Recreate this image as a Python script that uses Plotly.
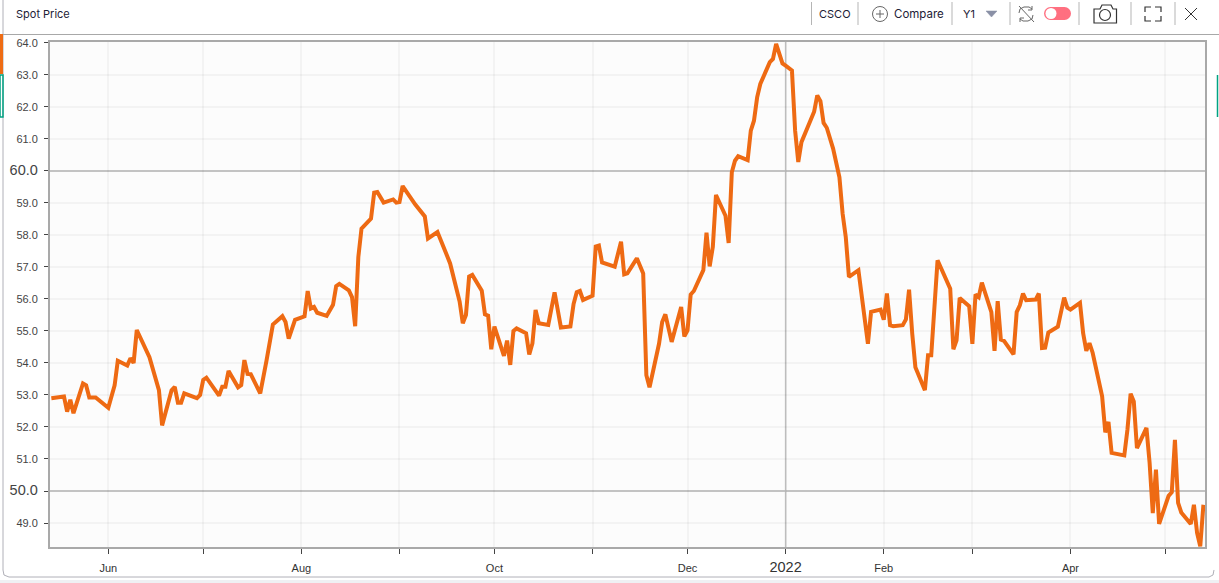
import pandas as pd
import plotly.graph_objects as go

# Calendar days counted from 2021-06-01
day_offsets = [
    -18,-14,-13,-12,-11,-8,-7,-6,-4,0,2,3,6,7,8,9,13,16,17,20,21,22,23,24,28,29,30,31,35,36,37,38,41,42,43,44,45,48,
    50,52,55,56,57,59,62,63,64,65,66,69,71,72,73,76,77,78,79,80,83,84,85,87,90,91,92,93,97,99,100,101,104,107,108,
    111,112,113,114,115,118,119,120,121,122,125,126,127,128,129,132,133,134,135,136,139,141,143,146,147,148,149,150,
    153,154,155,156,160,162,163,164,167,169,170,171,174,175,176,178,181,182,183,184,185,188,189,190,191,192,195,196,
    197,198,199,202,203,204,205,206,209,210,211,213,214,216,217,218,219,222,223,224,225,226,227,229,231,232,233,234,
    237,240,241,244,245,246,247,248,251,252,253,254,255,258,259,260,262,266,267,268,269,272,273,274,275,276,279,280,
    281,282,283,286,287,288,289,290,293,294,295,296,297,300,302,303,304,307,308,309,310,311,314,315,316,317,321,322,
    323,324,325,328,329,330,331,332,335,336,337,338,339,342,343,344,345,346,
]
spot_price = [
    52.9,52.95,52.48,52.85,52.43,53.36,53.3,52.92,52.92,52.6,53.3,54.07,53.92,54.15,54.0,55.03,54.18,53.15,52.05,53.15,53.25,52.76,52.76,53.05,52.9,53.0,53.47,53.54,52.98,53.26,53.26,53.75,53.24,53.31,54.09,53.66,53.65,53.05,
    54.08,55.2,55.46,55.28,54.76,55.35,55.46,56.25,55.7,55.75,55.57,55.47,55.82,56.4,56.47,56.27,56.06,55.15,57.31,58.2,58.51,59.32,59.34,59.01,59.11,59.01,59.03,59.53,58.95,58.67,58.58,57.89,58.09,57.36,57.11,
    55.92,55.24,55.5,56.7,56.75,56.26,55.52,55.48,54.43,55.14,54.22,54.7,53.94,55.0,55.08,54.93,54.27,54.61,55.66,55.24,55.19,56.21,55.11,55.14,55.84,56.21,56.25,55.97,
    56.1,57.64,57.67,57.14,57.01,57.79,56.77,56.8,57.27,56.8,53.62,53.24,54.6,55.28,55.52,54.66,55.75,54.83,55.02,56.14,56.25,56.9,58.07,57.02,57.63,59.25,58.6,57.75,
    59.96,60.32,60.46,60.34,61.26,61.57,62.3,62.72,63.4,63.5,63.97,63.36,63.29,63.14,61.26,60.28,60.9,61.6,61.85,62.36,62.18,61.5,61.35,60.7,59.8,58.67,57.94,56.69,
    56.9,54.6,55.6,55.67,55.35,56.17,55.18,55.15,55.18,55.36,56.29,54.92,53.87,53.15,54.24,54.24,57.21,56.32,54.43,54.71,56.03,55.77,54.6,56.14,56.06,56.51,55.59,54.38,
    55.93,54.73,54.69,54.27,55.59,55.8,56.17,55.96,55.98,56.17,54.47,54.48,54.95,55.13,56.04,55.73,55.67,55.88,54.93,54.38,54.62,54.32,52.96,51.83,52.16,51.19,51.11,51.92,
    53.04,52.8,51.34,51.97,50.88,49.31,50.67,48.97,49.85,49.96,51.6,49.63,49.33,48.97,49.57,48.69,48.27,49.57,
]
month_ticks = ["2021-06-01","2021-07-01","2021-08-01","2021-09-01","2021-10-01","2021-11-01","2021-12-01",
               "2022-01-01","2022-02-01","2022-03-01","2022-04-01","2022-05-01"]
month_labels = ["Jun","","Aug","","Oct","","Dec","2022","Feb","","Apr",""]
price_ticks = [49,50,51,52,53,54,55,56,57,58,59,60,61,62,63,64]
major_prices = [50,60]
major_dates = ["2022-01-01"]
x_range = ["2021-05-13 14:00","2022-05-13 12:00"]
y_range = [48.25,64.03]

dates = pd.Timestamp("2021-06-01") + pd.to_timedelta(day_offsets, unit="D")

W, H = 1219, 583
L, R, T, B = 50, 1205, 42, 547
px = lambda x: (x - L) / (R - L)
py = lambda y: (B - y) / (B - T)
GRAY = "#a9a9a9"
SEP = "#b5b5b5"
ICON = "#444444"
INK = "#1d2136"

def label_y(v):
    t = f"{v:.1f}"
    return f'<span style="font-size:14.5px">{t}</span>' if v in major_prices else t

def label_x(t):
    return f'<span style="font-size:14.5px">{t}</span>' if t == "2022" else t

shapes = []
def line(x0, y0, x1, y1, color=SEP, width=1):
    shapes.append(dict(type="line", xref="paper", yref="paper", x0=px(x0), y0=py(y0), x1=px(x1), y1=py(y1),
                       line=dict(color=color, width=width), layer="above"))
def rect(x0, y0, x1, y1, fill="rgba(0,0,0,0)", color=None, width=0):
    shapes.append(dict(type="rect", xref="paper", yref="paper", x0=px(x0), y0=py(y0), x1=px(x1), y1=py(y1),
                       fillcolor=fill, line=dict(color=color, width=width), layer="above"))
def circle(cx, cy, r, fill="rgba(0,0,0,0)", color=None, width=0):
    shapes.append(dict(type="circle", xref="paper", yref="paper", x0=px(cx-r), y0=py(cy+r), x1=px(cx+r), y1=py(cy-r),
                       fillcolor=fill, line=dict(color=color, width=width), layer="above"))
def path(points, color=ICON, width=1, fill="rgba(0,0,0,0)", close=False):
    d = "M " + " L ".join(f"{px(a):.5f},{py(b):.5f}" for a, b in points) + (" Z" if close else "")
    shapes.append(dict(type="path", xref="paper", yref="paper", path=d, fillcolor=fill,
                       line=dict(color=color, width=width), layer="above"))

# stronger gridlines
for v in major_prices:
    shapes.append(dict(type="line", xref="paper", yref="y", x0=0, x1=1, y0=v, y1=v,
                       line=dict(color="#cbcbcb", width=2), layer="below"))
for d in major_dates:
    shapes.append(dict(type="line", xref="x", yref="paper", x0=d, x1=d, y0=0, y1=1,
                       line=dict(color="#c4c4c4", width=1.5), layer="below"))

# card frame
line(3, 0, 3, 570, "#b0b0b8", 1)
path([(3, 570), (4, 575), (9, 577)], "#b0b0b8", 1)
line(9, 577, 1209, 577, "#b0b0b8", 1)
path([(1209, 577), (1213, 575), (1214, 570)], "#b0b0b8", 1)
line(3, 34.5, 1219, 34.5, "#a8a8a8", 1)
rect(0, 580, 1219, 583, "#eff0f3")
rect(0, 34, 3, 74, "#ee6c14")
rect(0, 75, 3, 117, "rgba(0,0,0,0)", "#00a383", 1.5)
line(1217.5, 75, 1217.5, 117, "#00a383", 1.5)

# toolbar
for sx in [811.5, 858, 952, 1010, 1079, 1131, 1175]:
    line(sx, 2, sx, 25)
circle(880, 14, 7.5, color="#666666", width=1)
line(876, 14, 884, 14, "#666666", 1)
line(880, 10, 880, 18, "#666666", 1)
path([(986, 11), (997, 11), (991.5, 17)], "#8a90a6", 0.5, "#8a90a6", True)
# sync icon
path([(1019, 13), (1020, 9), (1024, 7), (1029, 7), (1032, 9)], "#666666", 1)
path([(1033, 15), (1032, 19), (1028, 21), (1023, 21), (1020, 19)], "#666666", 1)
path([(1032, 6), (1032, 10), (1028, 10)], "#666666", 1)
path([(1020, 22), (1020, 18), (1024, 18)], "#666666", 1)
line(1019, 6, 1034, 22, "#666666", 1)
# toggle
circle(1050.5, 13.5, 6.5, "#ff6f80")
circle(1064.5, 13.5, 6.5, "#ff6f80")
rect(1050.5, 7, 1064.5, 20, "#ff6f80")
circle(1051, 13.5, 5.5, "#ffffff")
# camera
path([(1094, 9), (1100, 9), (1102, 5), (1111, 5), (1113, 9), (1116.5, 9), (1116.5, 23), (1094, 23)], "#333333", 1.2, close=True)
circle(1105, 15, 5.5, color="#333333", width=1.2)
# fullscreen
for a, b, c, d2, e, f in [(1145, 12, 1145, 7, 1151, 7), (1155, 7, 1161, 7, 1161, 12),
                          (1145, 16, 1145, 21, 1151, 21), (1155, 21, 1161, 21, 1161, 16)]:
    path([(a, b), (c, d2), (e, f)], "#333333", 1.2)
line(1185, 8, 1197, 20, "#333333", 1)
line(1197, 8, 1185, 20, "#333333", 1)

def note(x, y, s, size=11, font="Inter", color=INK, anchor="left"):
    return dict(xref="paper", yref="paper", x=px(x), y=py(y), text=s, showarrow=False, xanchor=anchor,
                yanchor="middle", font=dict(family=font, size=size, color=color))

annotations = [
    note(14, 14, "Spot Price", 11),
    note(817, 14, "CSCO", 11),
    note(892, 14, "Compare", 11.5),
    note(961, 14, "Y1", 11),
]

fig = go.Figure(go.Scatter(x=dates, y=spot_price, mode="lines", line=dict(color="#ee6a13", width=4),
                           hoverinfo="x+y", showlegend=False))
fig.update_layout(
    width=W, height=H, margin=dict(l=L, r=W-R, t=T, b=H-B, autoexpand=False),
    paper_bgcolor="#ffffff", plot_bgcolor="#fcfcfc", showlegend=False,
    font=dict(family="Liberation Sans, Arial, sans-serif", size=11, color="#444444"),
    shapes=shapes, annotations=annotations,
)
axis_common = dict(showline=True, mirror=True, linecolor=GRAY, linewidth=2, gridcolor="rgba(0,0,0,0.035)", gridwidth=1.5,
                   ticks="outside", tickwidth=1, tickcolor="#444444", zeroline=False)
fig.update_xaxes(type="date", range=x_range, tickmode="array", tickvals=month_ticks,
                 ticktext=[label_x(t) for t in month_labels], tickangle=0, ticklabelstandoff=5, ticklen=5,
                 tickfont=dict(size=11, color="#333333"), **axis_common)
fig.update_yaxes(range=y_range, tickmode="array", tickvals=price_ticks,
                 ticktext=[label_y(v) for v in price_ticks], ticklabelstandoff=4, ticklen=4,
                 tickfont=dict(size=11, color="#444444"), **axis_common)
fig.write_html("out.html", post_script="document.body.style.margin='0';document.body.style.overflow='hidden';",
               config=dict(displayModeBar=False))
